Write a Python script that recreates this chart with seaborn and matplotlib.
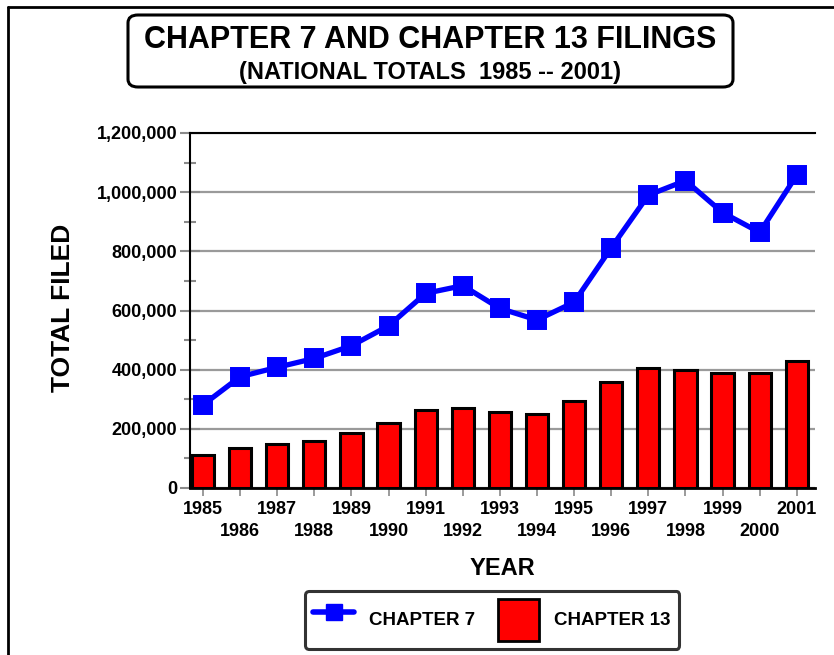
import matplotlib

matplotlib.use("Agg")
import matplotlib.pyplot as plt
import numpy as np
import pandas as pd
import seaborn as sns
from matplotlib.lines import Line2D
from matplotlib.patches import FancyBboxPatch, Patch
from matplotlib.ticker import FuncFormatter, MultipleLocator

# Data
years = [str(y) for y in range(1985, 2002)]
chapter7 = [281000, 376000, 408000, 438000, 481000, 548000, 658000, 684000, 607000,
            568000, 628000, 812000, 990000, 1039000, 931000, 864000, 1058000]
chapter13 = [112000, 136000, 148000, 160000, 185000, 220000, 264000, 269000, 257000,
             250000, 293000, 359000, 407000, 400000, 390000, 390000, 429000]

df = pd.DataFrame({"year": years, "ch7": chapter7, "ch13": chapter13})

sns.set_style("white")
plt.rcParams["font.family"] = ["Liberation Sans", "DejaVu Sans"]
plt.rcParams["font.weight"] = "bold"
plt.rcParams["text.color"] = "black"
plt.rcParams["axes.labelcolor"] = "black"
plt.rcParams["xtick.labelcolor"] = "black"
plt.rcParams["ytick.labelcolor"] = "black"

fig = plt.figure(figsize=(8.34, 6.55), dpi=100)
ax = fig.add_axes([190 / 834, 1 - 488 / 655, 625 / 834, 355 / 655])

sns.barplot(data=df, x="year", y="ch13", color="#ff0000", saturation=1,
            width=0.6, edgecolor="black", linewidth=2.2, ax=ax, zorder=2)
sns.pointplot(data=df, x="year", y="ch7", color="#0000ff", markers="s",
              markersize=12, linewidth=3.8, ax=ax, zorder=3)

ax.set_xlim(-0.35, 16.49)
ax.set_ylim(0, 1200000)

# gridlines and axes
ax.yaxis.set_major_locator(MultipleLocator(200000))
ax.yaxis.set_minor_locator(MultipleLocator(100000))
ax.yaxis.set_major_formatter(FuncFormatter(lambda v, p: f"{int(v):,}"))
ax.grid(axis="y", which="major", color="#9a9a9a", linewidth=1.6)
ax.set_axisbelow(True)
ax.spines["right"].set_visible(False)
ax.spines["left"].set_color("black")
ax.spines["left"].set_linewidth(1.5)
ax.spines["bottom"].set_color("black")
ax.spines["bottom"].set_linewidth(2)
ax.spines["top"].set_color("black")
ax.spines["top"].set_linewidth(1.5)

ax.tick_params(axis="y", which="both", left=True)
ax.tick_params(axis="x", which="major", bottom=True)
ax.tick_params(axis="y", which="major", direction="inout", length=14, width=1.5,
               color="#8a8a8a", labelsize=13, pad=2, labelcolor="black")
ax.tick_params(axis="y", which="minor", direction="inout", length=9, width=1.5,
               color="#8a8a8a")
ax.tick_params(axis="x", direction="out", length=6, width=1.2, color="#8a8a8a",
               labelsize=13, pad=3, labelcolor="black")

xlabels = [y if int(y) % 2 == 1 else "\n" + y for y in years]
ax.set_xticks(range(len(years)))
ax.set_xticklabels(xlabels, fontweight="bold", linespacing=1.4)
for lab in ax.get_yticklabels():
    lab.set_fontweight("bold")

ax.set_xlabel("YEAR", fontsize=17, fontweight="bold")
ax.xaxis.set_label_coords(0.5, -0.195)
ax.set_ylabel("TOTAL FILED", fontsize=19, fontweight="bold")
ax.yaxis.set_label_coords(-0.184, 0.507)

# title box
fig.add_artist(FancyBboxPatch((128 / 834, 1 - 87 / 655), 605 / 834, 72 / 655,
                              boxstyle="round,pad=0,rounding_size=0.012",
                              transform=fig.transFigure, fc="white", ec="black",
                              lw=2.2))
fig.text(430 / 834, 1 - 40 / 655, "CHAPTER 7 AND CHAPTER 13 FILINGS",
         ha="center", va="center", fontsize=22, fontweight="bold")
fig.text(430 / 834, 1 - 73 / 655, "(NATIONAL TOTALS  1985 -- 2001)",
         ha="center", va="center", fontsize=17, fontweight="bold")

# legend
handles = [
    Line2D([0], [0], color="#0000ff", lw=4, marker="s", markersize=11),
    Patch(facecolor="#ff0000", edgecolor="black", linewidth=2),
]
leg = fig.legend(handles, ["CHAPTER 7", "CHAPTER 13"], loc="center",
                 bbox_to_anchor=(492 / 834, 1 - 620 / 655), ncol=2,
                 fancybox=True, frameon=True, edgecolor="black",
                 prop={"weight": "bold", "size": 13.5}, handlelength=2.2,
                 handleheight=3.0, columnspacing=1.2, borderpad=0.45)
leg.get_frame().set_linewidth(2.2)

# outer frame (left and top edges)
fig.add_artist(Line2D([8 / 834, 8 / 834], [0, 1 - 7 / 655], color="black",
                      lw=2, transform=fig.transFigure))
fig.add_artist(Line2D([8 / 834, 1], [1 - 7 / 655, 1 - 7 / 655], color="black",
                      lw=2, transform=fig.transFigure))

fig.savefig("out.png", dpi=100)
